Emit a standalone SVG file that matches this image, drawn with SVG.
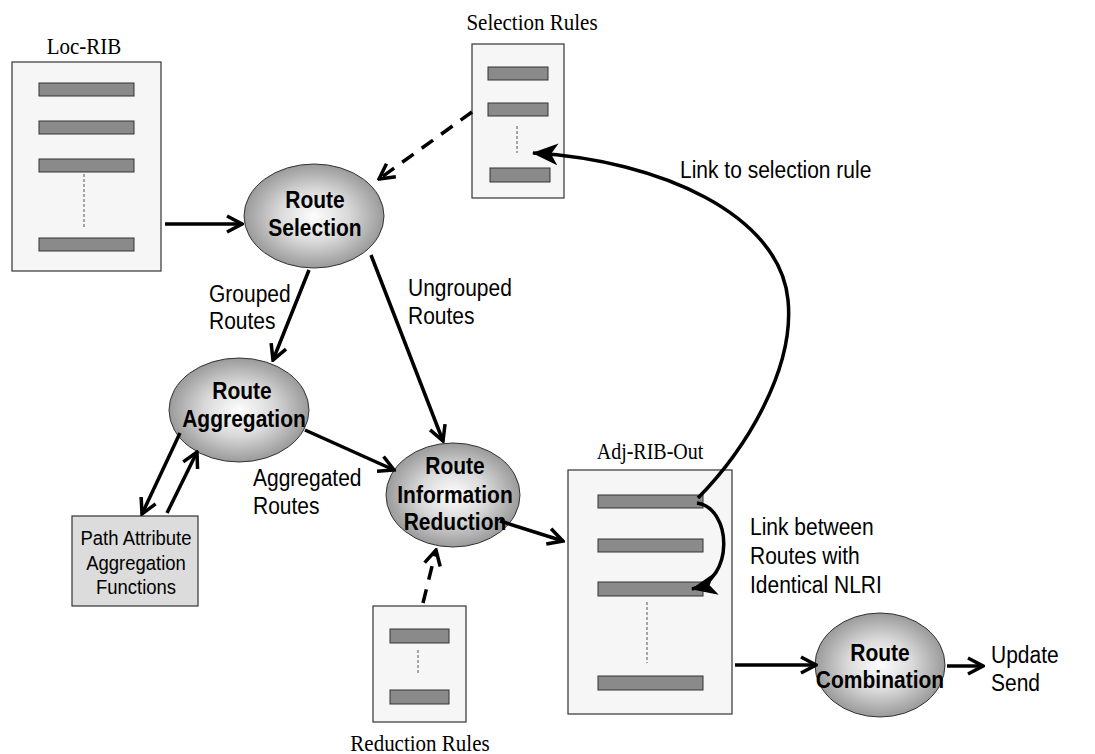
<svg xmlns="http://www.w3.org/2000/svg" width="1095" height="754" viewBox="0 0 1095 754">
<style>
.box{fill:#f6f6f6;stroke:#333;stroke-width:1.2}
.bar{fill:#8a8a8a;stroke:#333;stroke-width:1}
.dots{stroke:#555;stroke-width:1;stroke-dasharray:3,2}
.ell{fill:url(#rg);stroke:#333;stroke-width:1}
text{transform-box:fill-box;transform-origin:center;transform:scaleY(1.12)}
.title{font-family:"Liberation Serif",serif;font-size:21px;fill:#000;text-anchor:middle}
.nl{font-family:"Liberation Sans",Arial,sans-serif;font-size:21px;font-weight:bold;fill:#000;text-anchor:middle}
.lbl{font-family:"Liberation Sans",Arial,sans-serif;font-size:21px;fill:#000}
.pa{font-family:"Liberation Sans",Arial,sans-serif;font-size:18.5px;fill:#000;text-anchor:middle}
.c{fill:none;stroke:#000;stroke-width:3.5}
.dash{stroke-dasharray:14,10}
</style>
<defs>
<radialGradient id="rg" cx="50%" cy="50%" r="50%">
<stop offset="0%" stop-color="#fdfdfd"/>
<stop offset="50%" stop-color="#d9d9d9"/>
<stop offset="100%" stop-color="#9a9a9a"/>
</radialGradient>
<marker id="open" viewBox="0 0 20 20" refX="18" refY="10" markerWidth="20" markerHeight="20" markerUnits="userSpaceOnUse" orient="auto">
<path d="M3,2 L18,10 L3,18" fill="none" stroke="#000" stroke-width="3.5"/>
</marker>
<marker id="fill" viewBox="0 0 26 22" refX="25" refY="11" markerWidth="26" markerHeight="22" markerUnits="userSpaceOnUse" orient="auto">
<path d="M0,0 L26,11 L0,22 L7,11 z" fill="#000"/>
</marker>
</defs>
<rect width="1095" height="754" fill="#fff"/>

<g id="loc-rib">
<text class="title" x="84" y="53">Loc-RIB</text>
<rect class="box" x="12" y="62" width="149" height="209"/>
<rect class="bar" x="39" y="83" width="95" height="13"/>
<rect class="bar" x="39" y="121" width="95" height="13"/>
<rect class="bar" x="39" y="159" width="95" height="13"/>
<line class="dots" x1="84" y1="174" x2="84" y2="228"/>
<rect class="bar" x="39" y="238" width="95" height="13"/>
</g>

<g id="selection-rules">
<text class="title" x="532" y="29">Selection Rules</text>
<rect class="box" x="472" y="44" width="92" height="154"/>
<rect class="bar" x="488" y="67" width="60" height="13"/>
<rect class="bar" x="488" y="103" width="60" height="13"/>
<line class="dots" x1="517" y1="126" x2="517" y2="153" stroke-dasharray="1,1"/>
<rect class="bar" x="490" y="168" width="60" height="14"/>
</g>

<g id="route-selection">
<ellipse class="ell" cx="314" cy="216" rx="70" ry="52"/>
<text class="nl" x="315" y="207">Route</text>
<text class="nl" x="315" y="235">Selection</text>
</g>

<g id="route-aggregation">
<ellipse class="ell" cx="239" cy="410" rx="70" ry="52"/>
<text class="nl" x="242" y="398">Route</text>
<text class="nl" x="244" y="426">Aggregation</text>
</g>

<g id="route-information-reduction">
<ellipse class="ell" cx="453" cy="495" rx="67" ry="52"/>
<text class="nl" x="455" y="473">Route</text>
<text class="nl" x="455" y="502">Information</text>
<text class="nl" x="455" y="529">Reduction</text>
</g>

<g id="path-attribute">
<rect x="72" y="516" width="126" height="90" fill="#dcdcdc" stroke="#333" stroke-width="1.2"/>
<text class="pa" x="136" y="544">Path Attribute</text>
<text class="pa" x="136" y="569">Aggregation</text>
<text class="pa" x="136" y="593">Functions</text>
</g>

<g id="reduction-rules">
<rect class="box" x="373" y="606" width="93" height="116"/>
<rect class="bar" x="390" y="629" width="59" height="14"/>
<line class="dots" x1="418" y1="650" x2="418" y2="675" stroke-dasharray="1,1"/>
<rect class="bar" x="390" y="690" width="59" height="14"/>
<text class="title" x="420" y="750">Reduction Rules</text>
</g>

<g id="adj-rib-out">
<text class="title" x="650" y="458" style="font-size:20px">Adj-RIB-Out</text>
<rect class="box" x="568" y="470" width="164" height="244"/>
<rect class="bar" x="598" y="495" width="105" height="13"/>
<rect class="bar" x="598" y="539" width="105" height="13"/>
<rect class="bar" x="598" y="582" width="105" height="14"/>
<line class="dots" x1="647" y1="602" x2="647" y2="663"/>
<rect class="bar" x="598" y="676" width="105" height="14"/>
</g>

<g id="route-combination">
<ellipse class="ell" cx="880" cy="665" rx="65" ry="52"/>
<text class="nl" x="880" y="660">Route</text>
<text class="nl" x="880" y="687">Combination</text>
</g>

<g id="labels">
<text class="lbl" x="209" y="301">Grouped</text>
<text class="lbl" x="209" y="328">Routes</text>
<text class="lbl" x="408" y="295">Ungrouped</text>
<text class="lbl" x="408" y="323">Routes</text>
<text class="lbl" x="253" y="485">Aggregated</text>
<text class="lbl" x="253" y="513">Routes</text>
<text class="lbl" x="680" y="177">Link to selection rule</text>
<text class="lbl" x="750" y="534">Link between</text>
<text class="lbl" x="750" y="563">Routes with</text>
<text class="lbl" x="750" y="592">Identical NLRI</text>
<text class="lbl" x="991" y="662">Update</text>
<text class="lbl" x="991" y="690">Send</text>
</g>

<g id="connectors">
<line class="c" x1="165" y1="224" x2="242" y2="224" marker-end="url(#open)"/>
<line class="c dash" x1="472" y1="112" x2="379" y2="179" marker-end="url(#open)"/>
<line class="c" x1="309" y1="270" x2="273" y2="360" marker-end="url(#open)"/>
<line class="c" x1="371" y1="255" x2="443" y2="441" marker-end="url(#open)"/>
<line class="c" x1="305" y1="430" x2="394" y2="470" marker-end="url(#open)"/>
<line class="c" x1="180" y1="433" x2="142" y2="514" marker-end="url(#open)"/>
<line class="c" x1="167" y1="513" x2="197" y2="452" marker-end="url(#open)"/>
<line class="c dash" x1="423" y1="603" x2="436" y2="550" marker-end="url(#open)"/>
<line class="c" x1="500" y1="521" x2="563" y2="541" marker-end="url(#open)"/>
<line class="c" x1="735" y1="665" x2="816" y2="665" marker-end="url(#open)"/>
<line class="c" x1="947" y1="666" x2="983" y2="666" marker-end="url(#open)"/>
<path class="c" d="M698,498 C745,450 795,370 788,300 C780,215 660,160 533,153" marker-end="url(#fill)"/>
<path class="c" d="M697,503 C732,508 735,580 692,589" marker-end="url(#fill)"/>
</g>
</svg>
